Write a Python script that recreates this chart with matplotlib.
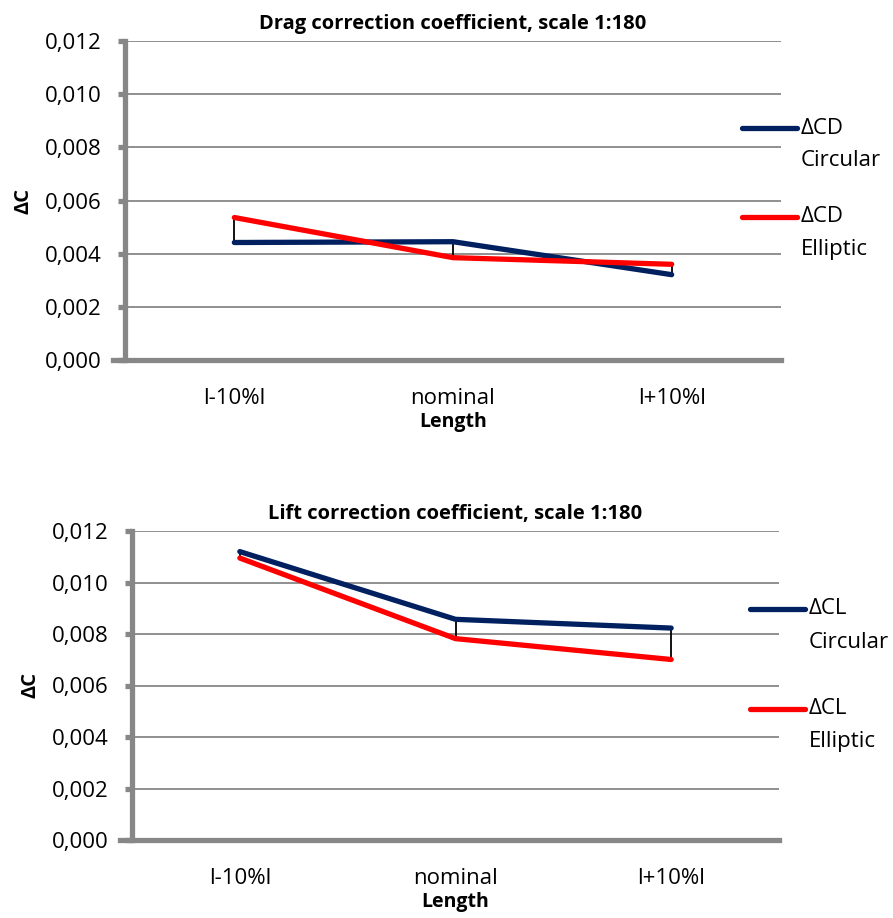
import matplotlib
matplotlib.use("Agg")
import matplotlib.pyplot as plt
from matplotlib.lines import Line2D
from matplotlib.ticker import FuncFormatter, FixedLocator

plt.rcParams['font.family'] = ['Open Sans', 'DejaVu Sans']

categories = ["l-10%l", "nominal", "l+10%l"]

drag_circular = [0.00442, 0.00445, 0.00321]
drag_elliptic = [0.00536, 0.00385, 0.00360]

lift_circular = [0.01120, 0.00857, 0.00823]
lift_elliptic = [0.01095, 0.00782, 0.00701]

y_ticks = [0.000, 0.002, 0.004, 0.006, 0.008, 0.010, 0.012]

NAVY = "#002060"
RED = "#ff0000"
GRAY = "#878787"

W, H = 893, 918
fig = plt.figure(figsize=(W / 100, H / 100), dpi=100)


def px_axes(left, top, right, bottom):
    return fig.add_axes([left / W, 1 - bottom / H, (right - left) / W, (bottom - top) / H])


def comma_fmt(v, _pos):
    return f"{v:.3f}".replace(".", ",")


def draw_panel(ax, title, circ, ell, names, legend_x, legend_y):
    x = list(range(len(categories)))
    for yv in y_ticks[1:]:
        ax.axhline(yv, color=GRAY, lw=1.3, zorder=1)
    # high-low lines between the two series
    for xi, a, b in zip(x, circ, ell):
        ax.plot([xi, xi], [min(a, b), max(a, b)], color="black", lw=1.3, zorder=2)
    ax.plot(x, circ, color=NAVY, lw=3.8, solid_capstyle="round", solid_joinstyle="round", zorder=3)
    ax.plot(x, ell, color=RED, lw=3.8, solid_capstyle="round", solid_joinstyle="round", zorder=3)

    ax.set_xlim(-0.5, len(categories) - 0.5)
    ax.set_ylim(0, 0.012)
    ax.yaxis.set_major_locator(FixedLocator(y_ticks))
    ax.yaxis.set_major_formatter(FuncFormatter(comma_fmt))
    ax.set_xticks(x)
    ax.set_xticklabels(categories)
    for s in ("top", "right"):
        ax.spines[s].set_visible(False)
    for s in ("left", "bottom"):
        ax.spines[s].set_color(GRAY)
        ax.spines[s].set_linewidth(3.8)
        ax.spines[s].set_zorder(4)
    ax.spines["bottom"].set_bounds(-0.555, len(categories) - 0.5)
    ax.tick_params(axis="y", length=5, width=3.8, color=GRAY, labelsize=16, pad=12)
    ax.tick_params(axis="x", length=0, labelsize=16, pad=20)
    ax.set_title(title, fontsize=14.5, fontweight="bold", pad=9)
    ax.set_xlabel("Length", fontsize=14, fontweight="bold", labelpad=2.5)
    ax.set_ylabel("ΔC", fontsize=14.5, fontweight="bold", labelpad=8)

    colors = [NAVY, RED]
    for i, (name, c) in enumerate(zip(names, colors)):
        ly = legend_y[i]
        fig.add_artist(Line2D([legend_x / W, (legend_x + 55) / W], [1 - ly / H, 1 - ly / H],
                              color=c, lw=3.8, solid_capstyle="round"))
        top_line, bottom_line = name.split("\n")
        fig.text((legend_x + 59) / W, 1 - ly / H, top_line, fontsize=16,
                 va="center", ha="left")
        fig.text((legend_x + 59) / W, 1 - (ly + 33) / H, bottom_line, fontsize=16,
                 va="center", ha="left")


ax1 = px_axes(125, 41, 781, 360)
draw_panel(ax1, "Drag correction coefficient, scale 1:180", drag_circular, drag_elliptic,
           ["ΔCD\nCircular", "ΔCD\nElliptic"], 742, [128, 217])

ax2 = px_axes(132, 531, 779, 840)
draw_panel(ax2, "Lift correction coefficient, scale 1:180", lift_circular, lift_elliptic,
           ["ΔCL\nCircular", "ΔCL\nElliptic"], 750, [609, 709])

fig.savefig("out.png", dpi=100, facecolor="white")
